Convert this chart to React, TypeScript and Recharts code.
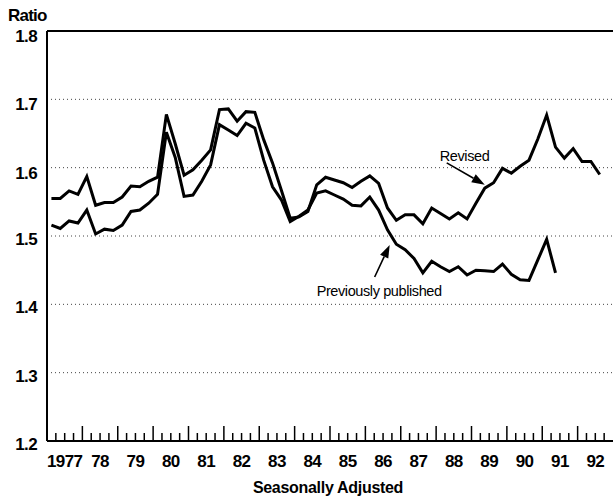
import React from 'react';
import { LineChart, Line, XAxis, YAxis, CartesianGrid, ReferenceLine } from 'recharts';

// quarterly ratios, 1977Q1 onward
const yearLabels = ['1977', '78', '79', '80', '81', '82', '83', '84', '85', '86', '87', '88', '89', '90', '91', '92'];

const revised = [
  1.555, 1.555, 1.566, 1.561, 1.587, 1.545, 1.549, 1.549,
  1.557, 1.573, 1.572, 1.58, 1.586, 1.678, 1.635, 1.589,
  1.597, 1.611, 1.626, 1.685, 1.686, 1.668, 1.682, 1.681,
  1.641, 1.607, 1.567, 1.526, 1.528, 1.536, 1.575, 1.586,
  1.582, 1.578, 1.571, 1.58, 1.588, 1.577, 1.541, 1.523,
  1.531, 1.531, 1.518, 1.541, 1.533, 1.525, 1.534, 1.525,
  1.548, 1.57, 1.578, 1.599, 1.592, 1.602, 1.611, 1.642,
  1.677, 1.63, 1.614, 1.628, 1.609, 1.609, 1.59,
];

const previouslyPublished = [
  1.516, 1.511, 1.522, 1.519, 1.538, 1.503, 1.51, 1.508,
  1.516, 1.536, 1.538, 1.548, 1.561, 1.652, 1.615, 1.558,
  1.56, 1.58, 1.604, 1.663, 1.655, 1.647, 1.665, 1.658,
  1.611, 1.572, 1.553, 1.521, 1.529, 1.538, 1.563, 1.566,
  1.56, 1.554, 1.545, 1.544, 1.557, 1.538, 1.509, 1.488,
  1.48, 1.467, 1.446, 1.463, 1.455, 1.448, 1.455, 1.443,
  1.45, 1.449, 1.448, 1.459, 1.444, 1.436, 1.435, 1.465,
  1.495, 1.446,
];

const yTicks = [1.2, 1.3, 1.4, 1.5, 1.6, 1.7, 1.8];
const quarterTicks = Array.from({ length: 65 }, (_, i) => i);

const data = revised.map((v, i) => ({
  q: i + 0.5,
  revised: v,
  previous: i < previouslyPublished.length ? previouslyPublished[i] : null,
}));

const FONT = '"Liberation Sans", Arial, Helvetica, sans-serif';

const QuarterTick = (props: any) => {
  const { x, y, payload } = props;
  const v = payload.value;
  const major = v % 4 === 0;
  const idx = (v - 2) / 4;
  const label = Number.isInteger(idx) ? yearLabels[idx] : null;
  return (
    <g>
      {v > 0 && v < 64 && (
        <line x1={x} x2={x} y1={y} y2={y - (major ? 15 : 8)} stroke="#000" strokeWidth={1.5} />
      )}
      {label && (
        <text x={x} y={y + 26} textAnchor="middle" fontFamily={FONT} fontWeight="bold" fontSize={17} letterSpacing={-0.6} fill="#000">
          {label}
        </text>
      )}
    </g>
  );
};

const RatioTick = (props: any) => {
  const { x, y, payload } = props;
  // the printed labels sit a little below their gridlines near the top
  const shift = payload.value > 1.55 ? 11 : 9;
  return (
    <text x={x} y={y} dy={shift} textAnchor="end" fontFamily={FONT} fontWeight="bold" fontSize={17} letterSpacing={-0.6} fill="#000">
      {payload.value.toFixed(1)}
    </text>
  );
};

// arrow with a filled head at the second point, text placed near the tail
const arrowShape = (text: string, dx: number, dy: number) => (p: any) => {
  const { x1, y1, x2, y2 } = p;
  const ang = Math.atan2(y2 - y1, x2 - x1);
  const len = 13;
  const w = 4.5;
  const bx = x2 - len * Math.cos(ang);
  const by = y2 - len * Math.sin(ang);
  const px = -Math.sin(ang) * w;
  const py = Math.cos(ang) * w;
  return (
    <g>
      <line x1={x1} y1={y1} x2={bx} y2={by} stroke="#000" strokeWidth={1.6} />
      <polygon points={`${x2},${y2} ${bx + px},${by + py} ${bx - px},${by - py}`} fill="#000" />
      <text x={x1 + dx} y={y1 + dy} fontFamily={FONT} fontSize={14.5} letterSpacing={-0.4} fill="#000">
        {text}
      </text>
    </g>
  );
};

export default function App() {
  return (
    <div style={{ position: 'absolute', left: 0, top: 0, width: 614, height: 499, background: '#fff' }}>
      <div style={{ position: 'absolute', left: 8, top: 6, fontFamily: FONT, fontWeight: 'bold', fontSize: 17, letterSpacing: -0.8, lineHeight: '20px' }}>
        Ratio
      </div>
      <LineChart width={614} height={499} data={data} margin={{ top: 31, right: 1, bottom: 0, left: 0 }}>
        <CartesianGrid vertical={false} stroke="#444" strokeDasharray="1 3" />
        <XAxis
          type="number"
          dataKey="q"
          domain={[0, 64]}
          ticks={quarterTicks}
          interval={0}
          height={58}
          tickSize={0}
          tickMargin={0}
          tickLine={false}
          tick={<QuarterTick />}
          axisLine={{ stroke: '#000', strokeWidth: 2 }}
        />
        <YAxis
          type="number"
          domain={[1.2, 1.8]}
          ticks={yTicks}
          interval={0}
          width={47}
          tickSize={0}
          tickMargin={10}
          tickLine={false}
          tick={<RatioTick />}
          axisLine={{ stroke: '#000', strokeWidth: 2 }}
        />
        <ReferenceLine y={1.8} stroke="#000" strokeWidth={2} />
        <Line type="linear" dataKey="previous" stroke="#000" strokeWidth={3} dot={false} connectNulls={false} isAnimationActive={false} />
        <Line type="linear" dataKey="revised" stroke="#000" strokeWidth={3} dot={false} isAnimationActive={false} />
        <ReferenceLine
          segment={[{ x: 45.2, y: 1.607 }, { x: 49.5, y: 1.575 }]}
          shape={arrowShape('Revised', -7, -2)}
        />
        <ReferenceLine
          segment={[{ x: 37.05, y: 1.44 }, { x: 38.75, y: 1.487 }]}
          shape={arrowShape('Previously published', -58, 19)}
        />
      </LineChart>
      <div style={{ position: 'absolute', left: 0, width: 656, top: 478, textAlign: 'center', fontFamily: FONT, fontWeight: 'bold', fontSize: 16, letterSpacing: -0.3, lineHeight: '20px' }}>
        Seasonally Adjusted
      </div>
    </div>
  );
}
